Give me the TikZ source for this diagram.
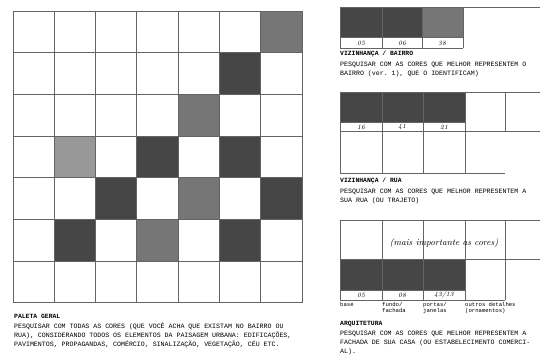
\documentclass[tikz,border=0pt]{standalone}
\usepackage{fontspec}
\setmonofont{Liberation Mono}
\usepackage{tikz}
\usetikzlibrary{positioning}
\definecolor{darkcell}{RGB}{70,70,70}
\definecolor{midcell}{RGB}{118,118,118}
\definecolor{lightcell}{RGB}{152,152,152}
\definecolor{gridline}{RGB}{100,100,100}

\tikzset{
  cellline/.style={draw=gridline, line width=0.9pt},
  caption/.style={anchor=north west, inner sep=0pt, align=left,
    font=\fontsize{6.6}{9.2}\selectfont\ttfamily},
  heading/.style={caption, font=\fontsize{6.4}{9}\selectfont\ttfamily\bfseries},
  hand/.style={inner sep=0pt, font=\fontsize{6.5}{7}\selectfont\itshape},
  legend/.style={anchor=north west, inner sep=0pt, align=left,
    font=\fontsize{5.6}{6.6}\selectfont\ttfamily},
}

\begin{document}
\begin{tikzpicture}[x=1pt,y=-1pt]
  \useasboundingbox (0,0) rectangle (542,361);

  % Paleta geral
  \begin{scope}
    \foreach \c/\r/\col in {6/0/midcell, 5/1/darkcell, 4/2/midcell,
        1/3/lightcell, 3/3/darkcell, 5/3/darkcell,
        2/4/darkcell, 4/4/midcell, 6/4/darkcell,
        1/5/darkcell, 3/5/midcell, 5/5/darkcell} {
      \fill[\col] (13+41.3*\c, 11+41.7*\r) rectangle ++(41.3, 41.7);
    }
    \foreach \i in {0,...,7} {
      \draw[cellline] (13+41.3*\i, 11) -- (13+41.3*\i, 303);
      \draw[cellline] (13, 11+41.7*\i) -- (302, 11+41.7*\i);
    }
    \node[heading] (paleta) at (14,314) {PALETA GERAL};
    \node[caption, below=4pt of paleta.south west, anchor=north west] (paletatxt)
      {PESQUISAR COM TODAS AS CORES (QUE VOCÊ ACHA QUE EXISTAM NO BAIRRO OU\\
       RUA), CONSIDERANDO TODOS OS ELEMENTOS DA PAISAGEM URBANA: EDIFICAÇÕES,\\
       PAVIMENTOS, PROPAGANDAS, COMÉRCIO, SINALIZAÇÃO, VEGETAÇÃO, CÉU ETC.};
  \end{scope}

  % Vizinhanca / bairro
  \begin{scope}
    \fill[darkcell] (340,7) rectangle (422,37);
    \fill[midcell] (422,7) rectangle (463,37);
    \draw[cellline] (340,7) -- (540,7);
    \draw[cellline] (340,37) -- (463,37);
    \draw[cellline] (340,48) -- (463,48);
    \foreach \x in {340,382,422,463}
      \draw[cellline] (\x,7) -- (\x,48);
    \foreach \x/\t in {361/05, 402/06, 442/38}
      \node[hand] at (\x,43) {\t};
    \node[heading] (bairro) at (340,51) {VIZINHANÇA / BAIRRO};
    \node[caption, below=4pt of bairro.south west, anchor=north west] (bairrotxt)
      {PESQUISAR COM AS CORES QUE MELHOR REPRESENTEM O\\
       BAIRRO (ver. 1), QUE O IDENTIFICAM)};
  \end{scope}

  % Vizinhanca / rua
  \begin{scope}
    \fill[darkcell] (340,92) rectangle (465,122);
    \draw[cellline] (340,92) -- (540,92);
    \draw[cellline] (340,122) -- (465,122);
    \draw[cellline] (340,131) -- (540,131);
    \draw[cellline] (340,173) -- (505,173);
    \foreach \x in {340,382,423,465}
      \draw[cellline] (\x,92) -- (\x,173);
    \draw[cellline] (505,92) -- (505,131);
    \foreach \x/\t in {361/16, 402/41, 444/21}
      \node[hand] at (\x,127) {\t};
    \node[heading] (rua) at (340,178) {VIZINHANÇA / RUA};
    \node[caption, below=4pt of rua.south west, anchor=north west] (ruatxt)
      {PESQUISAR COM AS CORES QUE MELHOR REPRESENTEM A\\
       SUA RUA (OU TRAJETO)};
  \end{scope}

  % Arquitetura
  \begin{scope}
    \fill[darkcell] (340,259) rectangle (465,290);
    \draw[cellline] (340,220) -- (540,220);
    \draw[cellline] (340,259) -- (540,259);
    \draw[cellline] (340,290) -- (465,290);
    \draw[cellline] (340,300) -- (505,300);
    \foreach \x in {340,382,423,465,505}
      \draw[cellline] (\x,220) -- (\x,300);
    \node[hand, font=\fontsize{9}{10}\selectfont\itshape] (nota)
      at (444,243) {(mais importante as cores)};
    \foreach \x/\t in {361/05, 402/08, 444/43{/}13}
      \node[hand] at (\x,295) {\t};
    \node[legend] (base) at (340,302) {base};
    \node[legend] (fundo) at (382,302) {fundo/\\fachada};
    \node[legend] (portas) at (423,302) {portas/\\janelas};
    \node[legend] (outros) at (465,302) {outros detalhes\\(ornamentos)};
    \node[heading] (arq) at (340,321) {ARQUITETURA};
    \node[caption, below=4pt of arq.south west, anchor=north west] (arqtxt)
      {PESQUISAR COM AS CORES QUE MELHOR REPRESENTEM A\\
       FACHADA DE SUA CASA (OU ESTABELECIMENTO COMERCI-\\
       AL).};
  \end{scope}
\end{tikzpicture}
\end{document}
